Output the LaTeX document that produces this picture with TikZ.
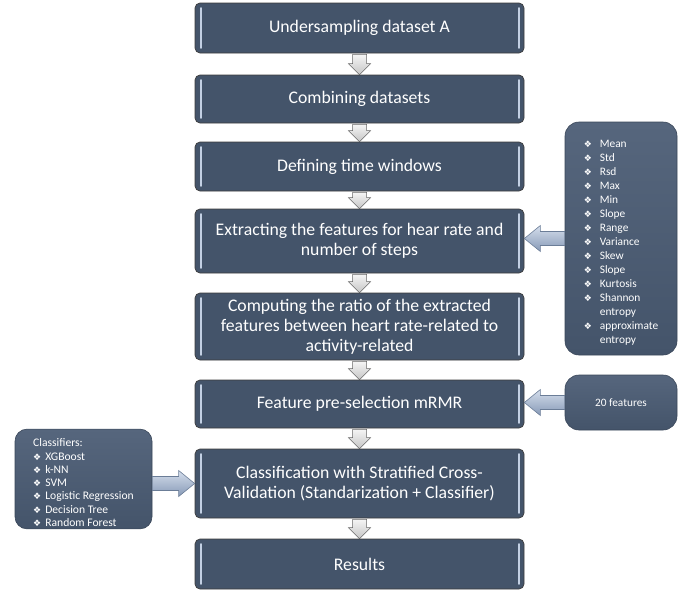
\documentclass[tikz,border=0pt]{standalone}
\usepackage{fontspec}
\setmainfont{Carlito}
\newfontfamily\dejavu{DejaVu Sans}
\usetikzlibrary{calc,positioning,shapes}
\definecolor{boxblue}{HTML}{44546A}
\definecolor{boxedge}{HTML}{3C3C3C}
\definecolor{glint}{HTML}{C3D0E3}
\definecolor{panelline}{HTML}{3A4759}
\definecolor{paneltop}{HTML}{56667D}
\definecolor{arrowlite}{HTML}{D4DEEC}
\definecolor{arrowdark}{HTML}{8699B6}
\definecolor{arrowline}{HTML}{6B7D97}
\newcommand{\dia}{{\dejavu\fontsize{9}{9}\selectfont\char"2756}}
\newcommand{\flowdown}[2]{%
  \draw[downarr] ($(#1.south)+(-7,1)$) -- ($(#2.north)+(-7,-11)$) -- ($(#2.north)+(-11,-11)$)
    -- (#2.north) -- ($(#2.north)+(11,-11)$) -- ($(#2.north)+(7,-11)$) -- ($(#1.south)+(7,1)$) -- cycle;}
\newcommand{\sidearrow}[3]{%
  \draw[sidearr] ($(#1)+(0,-7)$) -- ($(#2)+(#3,-7)$) -- ($(#2)+(#3,-13)$) -- (#2)
    -- ($(#2)+(#3,13)$) -- ($(#2)+(#3,7)$) -- ($(#1)+(0,7)$) -- cycle;}
\tikzset{
  stage/.style={draw=boxedge,line width=0.7pt,fill=boxblue,rounded corners=5pt,
    minimum width=329pt,text=white,align=center,font=\fontsize{17.7}{20}\selectfont,
    path picture={
      \draw[glint,line width=1.8pt,line cap=round]
        ([xshift=6pt,yshift=-5pt]path picture bounding box.north west) --
        ([xshift=6pt,yshift=5pt]path picture bounding box.south west)
        ([xshift=-5pt,yshift=-5pt]path picture bounding box.north east) --
        ([xshift=-5pt,yshift=5pt]path picture bounding box.south east);}},
  panel/.style={draw=panelline,line width=0.6pt,rounded corners=14pt,
    top color=paneltop,bottom color=boxblue,text=white},
  downarr/.style={draw=black!60,line width=0.5pt,top color=gray!8,bottom color=gray!45},
  sidearr/.style={draw=arrowline,line width=0.6pt,top color=arrowlite,bottom color=arrowdark}
}
\begin{document}
\begin{tikzpicture}[x=1pt,y=-1pt]
\useasboundingbox (0,0) rectangle (682,590);
\node[stage,minimum height=50pt] (b1) at (359.5,28) {Undersampling dataset A};
\node[stage,minimum height=48pt] (b2) at (359.5,99) {Combining datasets};
\node[stage,minimum height=49pt] (b3) at (359.5,166.5) {Defining time windows};
\node[stage,minimum height=64pt] (b4) at (359.5,241) {Extracting the features for hear rate and\\number of steps};
\node[stage,minimum height=67pt] (b5) at (359.5,326.5) {Computing the ratio of the extracted\\features between heart rate-related to\\activity-related};
\node[stage,minimum height=48pt] (b6) at (359.5,404) {Feature pre-selection mRMR};
\node[stage,minimum height=69pt] (b7) at (359.5,483.5) {Classification with Stratified Cross-\\Validation (Standarization + Classifier)};
\node[stage,minimum height=50pt] (b8) at (359.5,564) {Results};

\node[panel,minimum width=112pt,minimum height=233pt,font=\fontsize{11.4}{14}\selectfont] (feat) at (621,238.5) {%
\raisebox{-4pt}[\height][\depth]{\begin{tabular}{@{}c@{\hspace{8pt}}l@{}}
\dia & Mean\\ \dia & Std\\ \dia & Rsd\\ \dia & Max\\ \dia & Min\\ \dia & Slope\\ \dia & Range\\
\dia & Variance\\ \dia & Skew\\ \dia & Slope\\ \dia & Kurtosis\\ \dia & Shannon\\ & entropy\\
\dia & approximate\\ & entropy
\end{tabular}}};
\node[panel,minimum width=112pt,minimum height=55pt,font=\fontsize{11.3}{13}\selectfont] (sel) at (621,402.5) {20 features};
\node[panel,minimum width=137pt,minimum height=98pt,rounded corners=12pt,font=\fontsize{11.6}{13.3}\selectfont] (clf) at (83.5,479) {%
\raisebox{-5pt}[\height][\depth]{\begin{tabular}{@{}c@{\hspace{4pt}}l@{}}
\multicolumn{2}{@{}l@{}}{Classifiers:}\\
\dia & XGBoost\\ \dia & k-NN\\ \dia & SVM\\ \dia & Logistic Regression\\ \dia & Decision Tree\\ \dia & Random Forest
\end{tabular}}};

\flowdown{b1}{b2}
\flowdown{b2}{b3}
\flowdown{b3}{b4}
\flowdown{b4}{b5}
\flowdown{b5}{b6}
\flowdown{b6}{b7}
\flowdown{b7}{b8}

\coordinate (t4) at (b4.east |- feat.west);
\coordinate (t6) at (b6.east |- sel.west);
\coordinate (s7) at (clf.east |- b7.west);
\sidearrow{feat.west}{t4}{16}
\sidearrow{sel.west}{t6}{16}
\sidearrow{s7}{b7.west}{-16}
\end{tikzpicture}
\end{document}
